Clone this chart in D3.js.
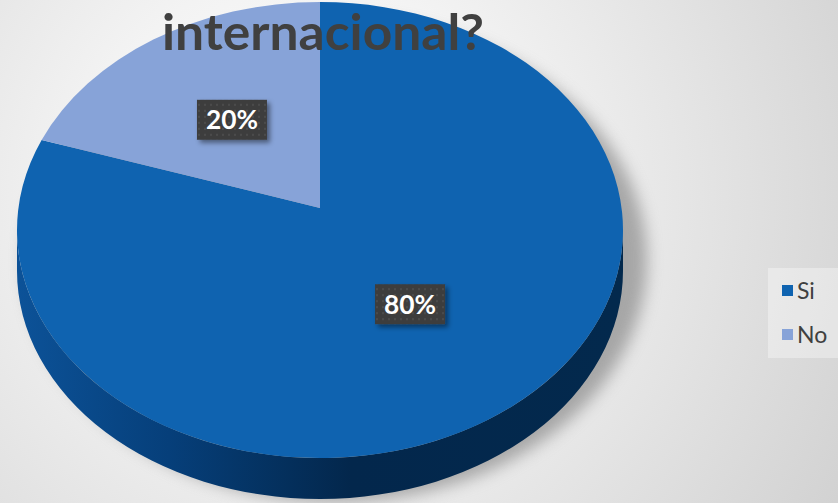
<!DOCTYPE html>
<html><head><meta charset="utf-8">
<script src="https://cdn.jsdelivr.net/npm/d3@7"></script>
<style>body{margin:0;overflow:hidden;background:#fff} svg{display:block}</style>
</head><body><div class="chart"></div>
<script>
const categories = ['Si', 'No'];
const values = [80, 20];
const colors = ['#0f63b0', '#87a3d8'];
const titleText = 'internacional?';

const width = 838, height = 503;
const cx = 320, cy = 230, rx = 303, ry = 228, depth = 41;
const apex = [320, 208];

const svg = d3.select('div.chart').append('svg').attr('width', width).attr('height', height);
const defs = svg.append('defs');

const bg = defs.append('radialGradient').attr('id', 'bg').attr('gradientUnits', 'userSpaceOnUse')
    .attr('cx', 300).attr('cy', 190).attr('r', 620);
bg.append('stop').attr('offset', 0).attr('stop-color', '#ffffff');
bg.append('stop').attr('offset', 0.35).attr('stop-color', '#f3f3f3');
bg.append('stop').attr('offset', 1).attr('stop-color', '#d2d2d2');

const side = defs.append('linearGradient').attr('id', 'side').attr('gradientUnits', 'userSpaceOnUse')
    .attr('x1', cx - rx).attr('x2', cx + rx).attr('y1', 0).attr('y2', 0);
side.append('stop').attr('offset', 0).attr('stop-color', '#0c5298');
side.append('stop').attr('offset', 0.25).attr('stop-color', '#063f7a');
side.append('stop').attr('offset', 0.55).attr('stop-color', '#03274c');
side.append('stop').attr('offset', 1).attr('stop-color', '#03294d');

const blur = defs.append('filter').attr('id', 'blur').attr('x', '-20%').attr('y', '-20%').attr('width', '140%').attr('height', '140%');
blur.append('feGaussianBlur').attr('stdDeviation', 8);

const drop = defs.append('filter').attr('id', 'drop').attr('x', '-30%').attr('y', '-30%').attr('width', '160%').attr('height', '160%');
drop.append('feDropShadow').attr('dx', 3).attr('dy', 3).attr('stdDeviation', 2.5).attr('flood-color', '#000').attr('flood-opacity', 0.45);

const dots = defs.append('pattern').attr('id', 'dots').attr('patternUnits', 'userSpaceOnUse').attr('width', 6).attr('height', 6);
dots.append('rect').attr('width', 6).attr('height', 6).attr('fill', '#3c3c3c');
dots.append('rect').attr('x', 2).attr('y', 2).attr('width', 2).attr('height', 2).attr('fill', '#4c4c4c');

svg.append('rect').attr('width', width).attr('height', height).attr('fill', 'url(#bg)');

// soft shadow under the pie
svg.append('ellipse').attr('cx', cx + 16).attr('cy', cy + 30).attr('rx', rx + 8).attr('ry', ry + 14)
    .attr('fill', '#7a7a7a').attr('opacity', 0.6).attr('filter', 'url(#blur)');

// ray from apex at pie angle meets the top ellipse
const edgePoint = a => {
    const u0 = (apex[0] - cx) / rx, v0 = (apex[1] - cy) / ry;
    const du = Math.sin(a), dv = -Math.cos(a);
    const A = du * du + dv * dv, B = 2 * (u0 * du + v0 * dv), C = u0 * u0 + v0 * v0 - 1;
    const t = (-B + Math.sqrt(B * B - 4 * A * C)) / (2 * A);
    return [apex[0] + t * rx * du, apex[1] + t * ry * dv];
};
const paramAngle = p => Math.atan2((p[0] - cx) / rx, -(p[1] - cy) / ry);

const arcs = d3.pie().sort(null).value(d => d)(values);

// side wall
svg.append('path')
    .attr('d', `M${cx - rx},${cy} A${rx},${ry} 0 0 0 ${cx + rx},${cy} L${cx + rx},${cy + depth} A${rx},${ry} 0 0 1 ${cx - rx},${cy + depth} Z`)
    .attr('fill', 'url(#side)');

svg.append('g').selectAll('path.slice')
    .data(arcs)
    .enter()
    .append('path')
    .classed('slice', true)
    .attr('d', d => {
        const p0 = edgePoint(d.startAngle), p1 = edgePoint(d.endAngle);
        let diff = paramAngle(p1) - paramAngle(p0);
        while (diff <= 0) diff += 2 * Math.PI;
        const large = diff > Math.PI ? 1 : 0;
        return `M${apex[0]},${apex[1]} L${p0[0]},${p0[1]} A${rx},${ry} 0 ${large} 1 ${p1[0]},${p1[1]} Z`;
    })
    .attr('fill', (d, i) => colors[i]);

// data labels
const labels = svg.append('g').selectAll('g.label')
    .data(arcs)
    .enter()
    .append('g')
    .classed('label', true)
    .attr('transform', d => {
        const m = (d.startAngle + d.endAngle) / 2;
        return `translate(${apex[0] + 0.5 * rx * Math.sin(m) + 1}, ${apex[1] - 0.5 * ry * Math.cos(m) + 4})`;
    });
labels.append('rect').attr('x', -35).attr('y', -20).attr('width', 70).attr('height', 40)
    .attr('fill', 'url(#dots)').attr('filter', 'url(#drop)');
labels.append('text').attr('text-anchor', 'middle').attr('dy', '0.36em')
    .attr('font-family', 'Lato, "Noto Sans", sans-serif').attr('font-weight', 700).attr('font-size', 26)
    .attr('textLength', 52).attr('lengthAdjust', 'spacingAndGlyphs')
    .attr('fill', '#fff').text(d => `${d.data}%`);

// legend
svg.append('rect').attr('x', 768).attr('y', 268).attr('width', 75).attr('height', 90).attr('fill', '#fff').attr('opacity', 0.35);
const legend = svg.append('g').selectAll('g.legend')
    .data(categories)
    .enter()
    .append('g')
    .classed('legend', true)
    .attr('transform', (d, i) => `translate(782, ${285 + i * 44})`);
legend.append('rect').attr('width', 11).attr('height', 11).attr('fill', (d, i) => colors[i]);
legend.append('text').attr('x', 15).attr('y', 5.5).attr('dy', '0.36em')
    .attr('font-family', 'Lato, "Noto Sans", sans-serif').attr('font-size', 23).attr('fill', '#404040').text(d => d);

// title (second line, first line is outside the frame)
svg.append('text').attr('x', 323).attr('y', 50).attr('text-anchor', 'middle')
    .attr('font-family', 'Lato, "Noto Sans", sans-serif').attr('font-weight', 700).attr('font-size', 50)
    .attr('textLength', 322).attr('lengthAdjust', 'spacingAndGlyphs')
    .attr('fill', '#404040').text(titleText);
</script>
</body></html>
